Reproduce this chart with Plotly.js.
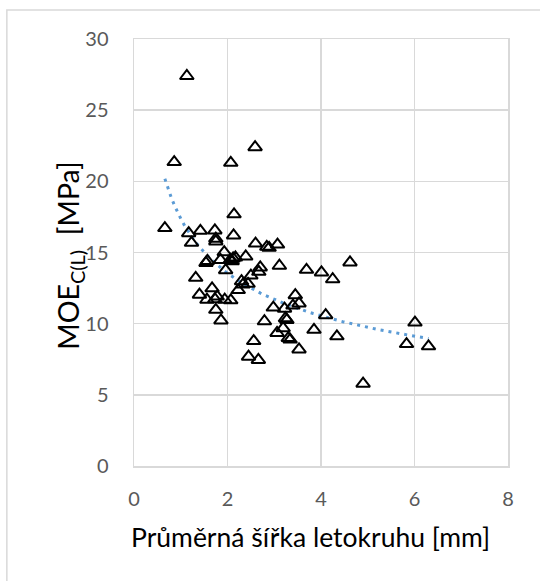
<!DOCTYPE html>
<html>
<head>
<meta charset="utf-8">
<script src="https://cdn.plot.ly/plotly-3.0.1.min.js"></script>
<style>
  html, body { margin: 0; padding: 0; background: #fff; }
  #chart { width: 540px; height: 581px; }
</style>
</head>
<body>
<div id="chart"></div>
<script>
// Average ring width [mm] against compression modulus MOE C(L) [MPa]
const ringWidth = [
  1.13, 0.86, 2.07, 2.59, 0.66, 2.14, 1.17, 1.42, 1.23, 1.73,
  1.75, 1.75, 2.13, 1.93, 1.57, 1.54, 1.85, 2.06, 2.12, 2.17,
  2.10, 2.39, 1.96, 2.60, 2.84, 2.89, 3.07, 3.11, 2.70, 2.67,
  2.50, 1.32, 3.69, 4.01, 4.25, 4.62, 2.30, 2.33, 2.44, 2.23,
  1.67, 1.40, 1.56, 1.73, 1.78, 1.75, 1.86, 1.94, 2.07, 2.98,
  3.22, 3.45, 3.40, 3.53, 3.24, 3.27, 2.79, 4.10, 6.01, 3.85,
  3.06, 3.19, 3.30, 3.34, 4.34, 5.83, 6.30, 2.56, 3.53, 2.45,
  2.66, 4.90
];
const moe = [
  27.40, 21.35, 21.30, 22.40, 16.72, 17.68, 16.36, 16.52, 15.68, 16.55,
  15.97, 15.78, 16.20, 15.02, 14.41, 14.27, 14.48, 14.48, 14.58, 14.65,
  14.38, 14.72, 13.76, 15.63, 15.40, 15.33, 15.56, 14.07, 13.95, 13.64,
  13.38, 13.22, 13.78, 13.60, 13.12, 14.30, 12.98, 12.75, 12.80, 12.36,
  12.48, 12.04, 11.68, 11.72, 11.90, 10.97, 10.23, 11.68, 11.64, 11.13,
  11.05, 12.00, 11.27, 11.42, 10.38, 10.26, 10.17, 10.60, 10.08, 9.57,
  9.35, 9.68, 8.99, 8.88, 9.11, 8.57, 8.41, 8.78, 8.19, 7.68,
  7.45, 5.78
];

const xTicks = [0, 2, 4, 6, 8];
const yTicks = [0, 5, 10, 15, 20, 25, 30];
const xTitle = 'Průměrná šířka letokruhu [mm]';
const yTitle = 'MOE<sub>C(L)</sub>  [MPa]';

// Power trendline y = a * x^b, least squares in log-log space
function powerFit(xs, ys) {
  const n = xs.length;
  let sx = 0, sy = 0, sxx = 0, sxy = 0;
  for (let i = 0; i < n; i++) {
    const lx = Math.log(xs[i]), ly = Math.log(ys[i]);
    sx += lx; sy += ly; sxx += lx * lx; sxy += lx * ly;
  }
  const b = (n * sxy - sx * sy) / (n * sxx - sx * sx);
  const a = Math.exp((sy - b * sx) / n);
  return { a, b };
}
const fit = powerFit(ringWidth, moe);
const xMin = Math.min(...ringWidth), xMax = Math.max(...ringWidth);
const trendX = [], trendY = [];
for (let i = 0; i <= 80; i++) {
  const x = xMin + (xMax - xMin) * i / 80;
  trendX.push(x);
  trendY.push(fit.a * Math.pow(x, fit.b));
}

const gridColor = '#d9d9d9';
const fontFamily = 'Lato, "Open Sans", sans-serif';
const tickFont = { family: fontFamily, size: 20, color: '#595959' };

const data = [
  {
    x: trendX, y: trendY, type: 'scatter', mode: 'lines',
    line: { color: '#5b9bd5', width: 3, dash: '3px,5px' },
    hoverinfo: 'skip', showlegend: false
  },
  {
    x: ringWidth, y: moe, type: 'scatter', mode: 'markers',
    marker: {
      symbol: 'triangle-up-open', size: 12, color: '#000000',
      line: { width: 2, color: '#000000' }
    },
    showlegend: false
  }
];

const layout = {
  width: 540, height: 581,
  margin: { l: 134, r: 32, t: 39, b: 115 },
  paper_bgcolor: '#ffffff', plot_bgcolor: '#ffffff',
  showlegend: false,
  xaxis: {
    range: [0, 8], tickvals: xTicks, ticktext: xTicks.map(String),
    showgrid: true, gridcolor: gridColor, gridwidth: 1.5,
    showline: true, mirror: true, linecolor: gridColor, linewidth: 1.5,
    zeroline: false, ticks: '', ticklabelstandoff: 14,
    tickfont: tickFont
  },
  yaxis: {
    range: [0, 30], tickvals: yTicks, ticktext: yTicks.map(String),
    showgrid: true, gridcolor: gridColor, gridwidth: 1.5,
    showline: true, mirror: true, linecolor: gridColor, linewidth: 1.5,
    zeroline: false, ticks: '', ticklabelstandoff: 20,
    tickfont: tickFont
  },
  // Axis titles placed as paper annotations for exact positioning
  annotations: [
    {
      text: xTitle, xref: 'paper', yref: 'paper',
      x: 0.473, y: -0.167, xanchor: 'center', yanchor: 'middle',
      showarrow: false,
      font: { family: fontFamily, size: 26.5, color: '#000000' }
    },
    {
      text: yTitle, xref: 'paper', yref: 'paper', textangle: -90,
      x: -0.15, y: 0.492, xanchor: 'center', yanchor: 'middle',
      xshift: 0,
      showarrow: false,
      font: { family: fontFamily, size: 28.5, color: '#000000' }
    }
  ],
  shapes: [
    {
      type: 'rect', xref: 'paper', yref: 'paper', layer: 'below',
      x0: -0.34, x1: 1.5, y0: -0.5, y1: 1.0677,
      line: { color: gridColor, width: 1.5 }, fillcolor: 'rgba(0,0,0,0)'
    }
  ]
};

// Left edge (px) wanted for the rotated y title, leaving a gap before the tick labels
const yTitleLeft = 51;

function yTitleLeftNow(gd) {
  const t = gd.querySelector('.annotation[data-index="1"] text');
  if (!t) return null;
  return t.getBoundingClientRect().left - gd.getBoundingClientRect().left;
}

Plotly.newPlot('chart', data, layout, { displayModeBar: false, staticPlot: true })
  .then(async gd => {
    let shift = 0;
    let best = { shift: 0, err: Infinity };
    for (let i = 0; i < 6; i++) {
      const left = yTitleLeftNow(gd);
      if (left === null) break;
      const diff = yTitleLeft - left;
      if (Math.abs(diff) < best.err) best = { shift, err: Math.abs(diff) };
      if (Math.abs(diff) < 1) break;
      shift += diff;
      await Plotly.relayout(gd, { 'annotations[1].xshift': shift });
    }
    const finalLeft = yTitleLeftNow(gd);
    if (finalLeft !== null && Math.abs(yTitleLeft - finalLeft) > best.err) {
      await Plotly.relayout(gd, { 'annotations[1].xshift': best.shift });
    }
  });
</script>
</body>
</html>
